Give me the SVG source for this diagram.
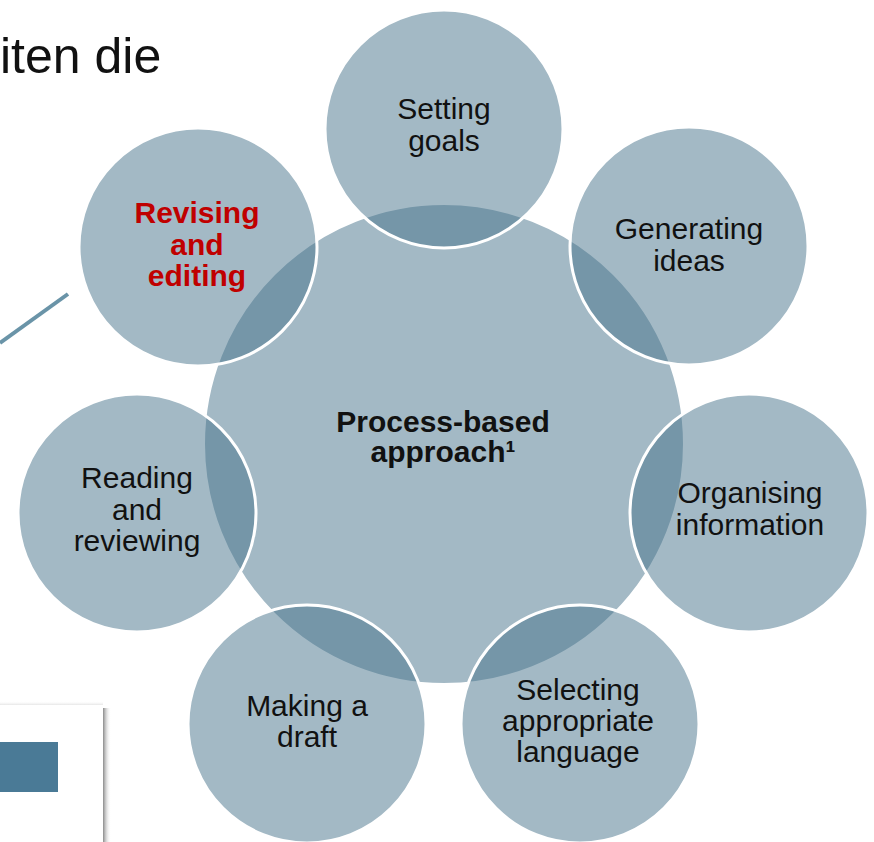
<svg xmlns="http://www.w3.org/2000/svg" width="874" height="842" viewBox="0 0 874 842">
  <defs>
    <linearGradient id="shadowR" x1="0" y1="0" x2="1" y2="0">
      <stop offset="0" stop-color="#8a8a8a"/>
      <stop offset="1" stop-color="#ffffff" stop-opacity="0"/>
    </linearGradient>
    <linearGradient id="shadowT" x1="0" y1="1" x2="0" y2="0">
      <stop offset="0" stop-color="#d8d8d8"/>
      <stop offset="1" stop-color="#ffffff" stop-opacity="0"/>
    </linearGradient>
  </defs>
  <style>
    .hub { fill: #A3B9C5; stroke: #ffffff; stroke-width: 2; }
    .sat { fill: #47738B; fill-opacity: 0.5; stroke: #ffffff; stroke-width: 3; }
    .lbl { font-family: "Liberation Sans", Arial, sans-serif; font-size: 30px; fill: #111111; text-anchor: middle; }
    .bold { font-weight: bold; }
    .red { fill: #C00000; font-weight: bold; }
  </style>
  <rect x="0" y="0" width="874" height="842" fill="#ffffff"/>

  <!-- background fragments -->
  <text x="0" y="73" font-family="Liberation Sans, Arial, sans-serif" font-size="50" fill="#111111">iten die</text>
  <rect x="0" y="701" width="103" height="5" fill="url(#shadowT)"/>
  <rect x="103" y="708" width="8" height="134" fill="url(#shadowR)"/>
  <rect x="0" y="705" width="103" height="137" fill="#ffffff"/>
  <rect x="0" y="742" width="58" height="50" fill="#4A7A96"/>

  <g id="connectors">
    <line x1="0" y1="343" x2="68" y2="294" stroke="#6A94A8" stroke-width="4"/>
  </g>

  <g id="hub">
    <circle class="hub" cx="444" cy="444" r="240"/>
    <text class="lbl bold" x="443" y="432">Process-based</text>
    <text class="lbl bold" x="443" y="462">approach¹</text>
  </g>

  <g id="setting-goals">
    <circle class="sat" cx="444" cy="129" r="119"/>
    <text class="lbl" x="444" y="119">Setting</text>
    <text class="lbl" x="444" y="151">goals</text>
  </g>

  <g id="generating-ideas">
    <circle class="sat" cx="689" cy="246" r="119"/>
    <text class="lbl" x="689" y="239">Generating</text>
    <text class="lbl" x="689" y="271">ideas</text>
  </g>

  <g id="organising-information">
    <circle class="sat" cx="749" cy="513" r="119"/>
    <text class="lbl" x="750" y="503">Organising</text>
    <text class="lbl" x="750" y="535">information</text>
  </g>

  <g id="selecting-language">
    <circle class="sat" cx="580" cy="724" r="119"/>
    <text class="lbl" x="578" y="700">Selecting</text>
    <text class="lbl" x="578" y="731">appropriate</text>
    <text class="lbl" x="578" y="762">language</text>
  </g>

  <g id="making-draft">
    <circle class="sat" cx="307" cy="724" r="119"/>
    <text class="lbl" x="307" y="716">Making a</text>
    <text class="lbl" x="307" y="747">draft</text>
  </g>

  <g id="reading-reviewing">
    <circle class="sat" cx="137" cy="513" r="119"/>
    <text class="lbl" x="137" y="488">Reading</text>
    <text class="lbl" x="137" y="520">and</text>
    <text class="lbl" x="137" y="551">reviewing</text>
  </g>

  <g id="revising-editing">
    <circle class="sat" cx="198" cy="247" r="119"/>
    <text class="lbl red" x="197" y="223">Revising</text>
    <text class="lbl red" x="197" y="255">and</text>
    <text class="lbl red" x="197" y="286">editing</text>
  </g>
</svg>
